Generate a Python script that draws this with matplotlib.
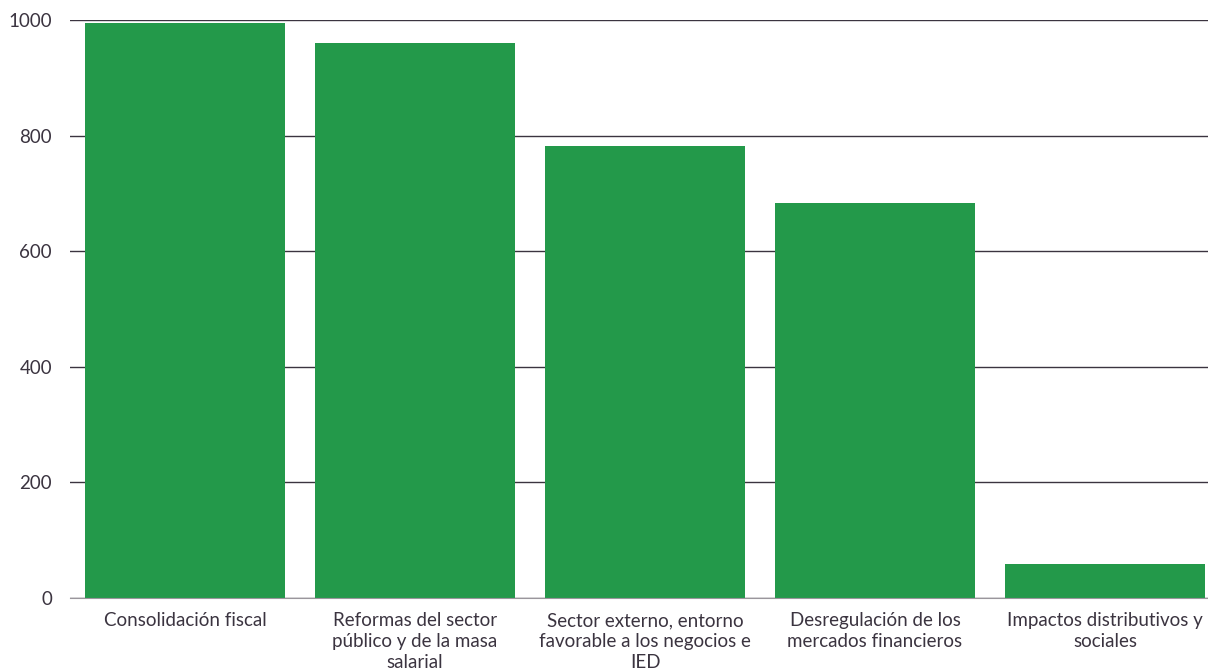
import matplotlib.pyplot as plt

categorias = [
    'Consolidación fiscal',
    'Reformas del sector\npúblico y de la masa\nsalarial',
    'Sector externo, entorno\nfavorable a los negocios e\nIED',
    'Desregulación de los\nmercados financieros',
    'Impactos distributivos y\nsociales',
]
valores = [995, 960, 782, 683, 59]

plt.rcParams['font.family'] = ['Lato', 'DejaVu Sans']
color_texto = '#3b3440'

fig = plt.figure(figsize=(12.08, 6.70), dpi=100)
# el eje se extiende un poco más allá del borde derecho
ax = fig.add_axes([70 / 1208, 72 / 670, 1150 / 1208, 578 / 670])

x = range(len(categorias))
ax.bar(x, valores, width=200 / 230, color='#23994a', zorder=2)

ax.set_xlim(-0.5, len(categorias) - 0.5)
ax.set_ylim(0, 1000)
ax.set_yticks([0, 200, 400, 600, 800, 1000])
ax.yaxis.grid(True, color='#3b3440', linewidth=1, zorder=1)
ax.set_xticks(list(x))
ax.set_xticklabels(categorias, fontsize=13.5, color=color_texto, linespacing=1.3)
ax.tick_params(axis='y', length=0, pad=13, labelsize=13.5, labelcolor=color_texto)
ax.tick_params(axis='x', length=0, pad=10)

for lado in ['top', 'right', 'left']:
    ax.spines[lado].set_visible(False)
ax.spines['bottom'].set_color('#9a969c')
ax.spines['bottom'].set_zorder(3)

fig.savefig('out.png', dpi=100)
